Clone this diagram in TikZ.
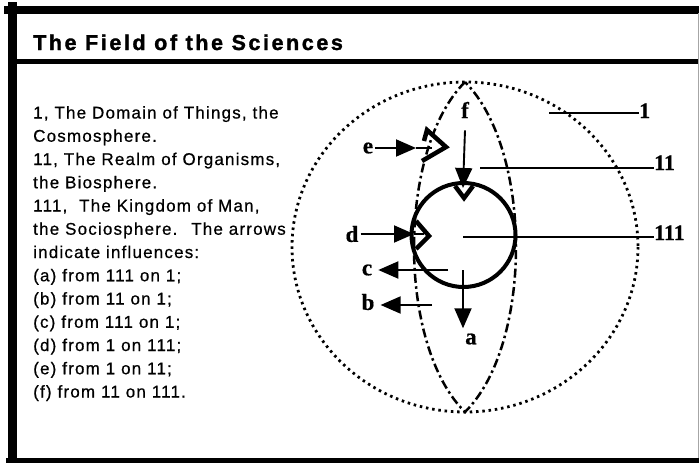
\documentclass[tikz,border=0pt]{standalone}
\usepackage{fontspec}
\usepackage{tikz}
\usetikzlibrary{arrows.meta}
\newfontfamily\titlefont[LetterSpace=12, FakeBold=1.5]{Liberation Sans}
\newfontfamily\legendfont[LetterSpace=7, FakeBold=0.6]{Liberation Sans}
\newfontfamily\markfont[FakeBold=0.5]{Liberation Serif}
\tikzset{
    border/.style = {draw, line cap=rect},
    heading/.style = {font=\titlefont\bfseries\fontsize{21.5}{24}\selectfont, anchor=base west, inner sep=0pt},
    legend/.style = {font=\legendfont\fontsize{17}{20}\selectfont, anchor=base west, inner sep=0pt},
    letter/.style = {font=\markfont\bfseries\fontsize{23}{23}\selectfont, inner sep=2pt},
    numeral/.style = {font=\markfont\bfseries\fontsize{22}{22}\selectfont, anchor=base west, inner sep=0pt},
}
\tikzset{
    cosmos/.style = {draw, line width=2.8pt, dash pattern=on 2.5pt off 3.8pt},
    bios/.style = {draw, line width=2.5pt, dash pattern=on 9pt off 3.5pt on 2.5pt off 3.5pt},
    socio/.style = {draw, line width=4pt},
    notch/.style = {draw, line width=4.5pt, line join=miter},
    influence/.style = {draw, line width=1.9pt, -{Triangle[length=20pt, width=17pt]}},
    shaft/.style = {draw, line width=1.9pt},
    leader/.style = {draw, line width=2pt},
}

\begin{document}
\begin{tikzpicture}[x=1pt, y=-1pt]
    \useasboundingbox (0,0) rectangle (699,463);

    \draw[border, line width=8pt] (8,10) -- (699,10);
    \draw[border, line width=9pt] (12.5,6) -- (12.5,463);
    \draw[border, line width=5pt] (17,61.5) -- (699,61.5);
    \draw[border, line width=5pt] (8,460.5) -- (699,460.5);
    \draw[line width=1pt, black!35] (698,13) -- (698,458);

    \node[heading] (title) at (33,50) {The Field of the Sciences};

    \foreach \line [count=\i from 0] in {
        {1, The Domain of Things, the}, {Cosmosphere.},
        {11, The Realm of Organisms,}, {the Biosphere.},
        {111,~ The Kingdom of Man,}, {the Sociosphere.~ The arrows},
        {indicate influences:},
        {(a) from 111 on 1;}, {(b) from 11 on 1;}, {(c) from 111 on 1;},
        {(d) from 1 on 111;}, {(e) from 1 on 11;}, {(f) from 11 on 111.}}
        \node[legend] (l\i) at (33, 118.5+23.25*\i) {\line};

    \draw[cosmos] (465,247) ellipse[x radius=173, y radius=165];
    \coordinate (top) at (465,82);
    \coordinate (bot) at (465,412);
    \draw[bios] (top) .. controls (397,150) and (397,345) .. (bot)
        .. controls (533,345) and (533,150) .. (top);
    \draw[socio] (463.5,235) circle[radius=52];

    \draw[notch] (424,141) -- (427,130) -- (446,147) -- (422,161);
    \draw[notch] (416,221) -- (429,236) -- (416,249);
    \draw[notch] (455,186) -- (464,198) -- (473,186);

    \node[letter] (e) at (368,148) {e};
    \node[letter] (d) at (352,234) {d};
    \node[letter] (f) at (465,110) {f};
    \node[letter] (c) at (367,270) {c};
    \node[letter] (b) at (368,302) {b};
    \node[letter] (a) at (471,339) {a};

    \coordinate (etip) at (416,148);
    \coordinate (dtip) at (414,234);
    \coordinate (ftip) at (463,188);
    \coordinate (cstart) at (448,270);
    \coordinate (bstart) at (432,305);
    \coordinate (astart) at (463,270);

    \draw[influence] (e) -- (etip);
    \draw[shaft] (etip) -- ++(16,0);
    \draw[influence] (d) -- (dtip);
    \draw[shaft] (dtip) -- ++(10,0);
    \draw[influence] ([yshift=-10pt]f.south) -- (ftip);
    \draw[influence, shorten >=4pt] (cstart) -- (c);
    \draw[influence, shorten >=4pt] (bstart) -- (bstart -| b.east);
    \draw[influence, shorten >=3pt] (astart) -- (astart |- a.north);

    \node[numeral] (n1) at (639,118) {1};
    \node[numeral] (n2) at (654,170) {11};
    \node[numeral] (n3) at (654,240) {111};
    \coordinate (r1) at (549,113);
    \coordinate (r2) at (480,168);
    \coordinate (r3) at (463,237);
    \draw[leader] (r1) -- (r1 -| n1.west);
    \draw[leader] (r2) -- (r2 -| n2.west);
    \draw[leader] (r3) -- (r3 -| n3.west);
\end{tikzpicture}
\end{document}
